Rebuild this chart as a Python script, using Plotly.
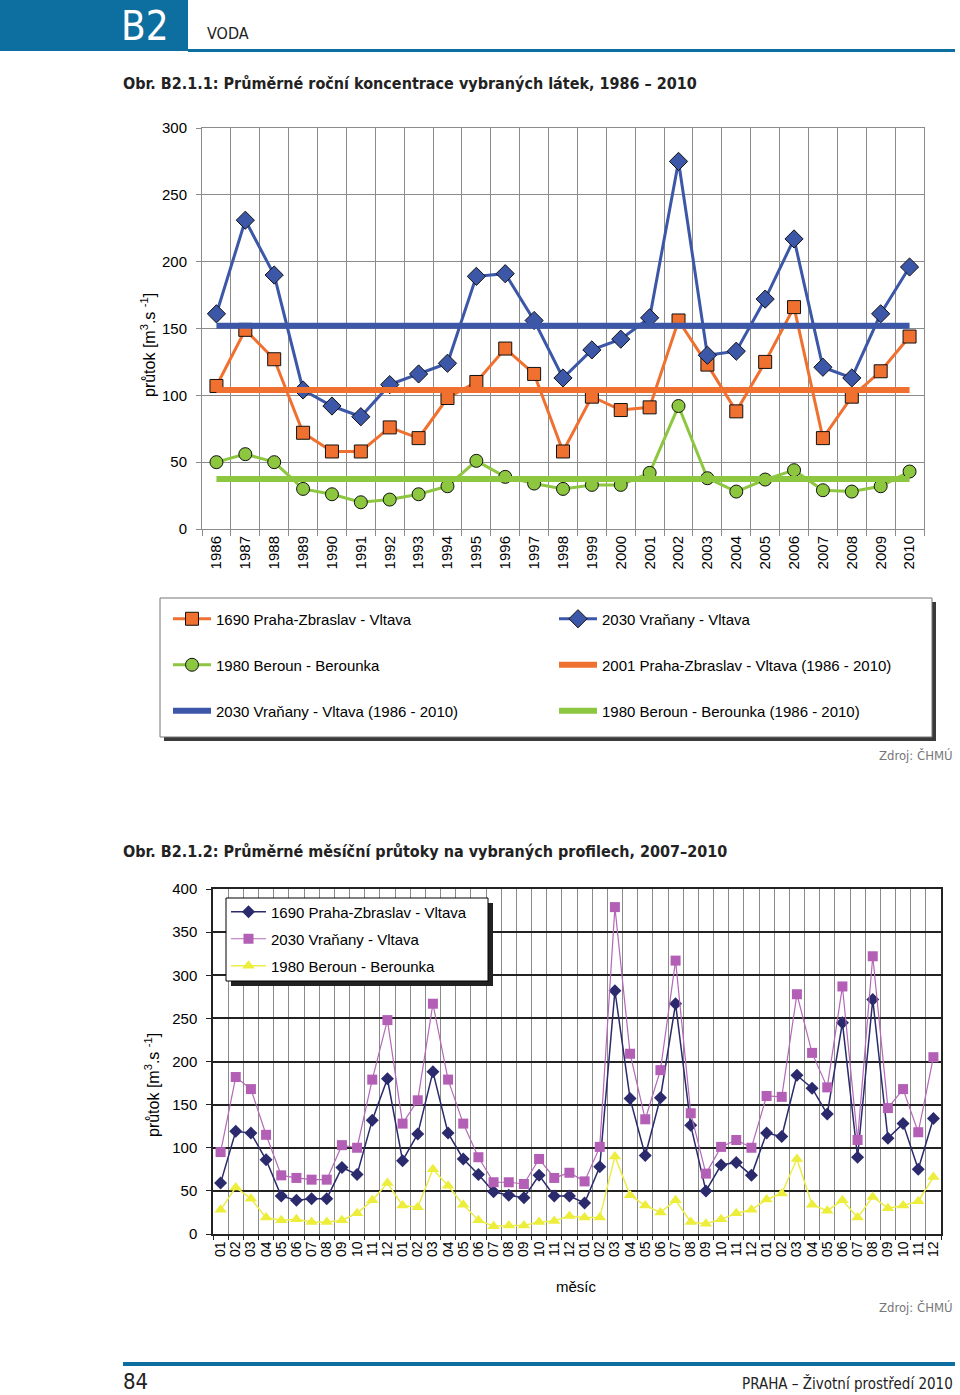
import plotly.graph_objects as go

# ---------------- data: chart 1 (annual, 1986-2010) ----------------
years = [str(y) for y in range(1986, 2011)]
praha_zbraslav = [107, 149, 127, 72, 58, 58, 76, 68, 98, 110, 135, 116, 58,
                  99, 89, 91, 156, 123, 88, 125, 166, 68, 99, 118, 144]
vranany = [161, 231, 190, 104, 92, 84, 108, 116, 124, 189, 191, 156, 113,
           134, 142, 158, 275, 130, 133, 172, 217, 121, 113, 161, 196]
beroun = [50, 56, 50, 30, 26, 20, 22, 26, 32, 51, 39, 34, 30,
          33, 33, 42, 92, 38, 28, 37, 44, 29, 28, 32, 43]
avg_praha = 104
avg_vranany = 152
avg_beroun = 37.5

# ---------------- data: chart 2 (monthly, 2007-2010) ----------------
month_years = ["2007", "2008", "2009", "2010"]
months = ["01", "02", "03", "04", "05", "06", "07", "08", "09", "10", "11", "12"]
m_praha = [59, 119, 117, 86, 44, 39, 41, 41, 77, 69, 132, 180,
           85, 116, 188, 117, 87, 69, 49, 45, 42, 68, 44, 44,
           36, 78, 282, 157, 91, 158, 267, 126, 50, 80, 83, 68,
           117, 113, 184, 169, 139, 245, 89, 272, 111, 128, 75, 134]
m_vranany = [95, 182, 168, 115, 68, 65, 63, 63, 103, 100, 179, 248,
             128, 155, 267, 179, 128, 89, 60, 60, 58, 87, 65, 71,
             61, 101, 379, 209, 133, 190, 317, 140, 70, 101, 109, 100,
             160, 159, 278, 210, 170, 287, 109, 322, 146, 168, 118, 205]
m_beroun = [28, 54, 41, 19, 16, 17, 14, 14, 16, 24, 39, 59,
            33, 31, 75, 56, 34, 16, 9, 10, 10, 14, 15, 21,
            19, 19, 90, 45, 33, 25, 39, 14, 12, 17, 24, 28,
            40, 47, 87, 34, 27, 39, 19, 43, 30, 33, 38, 66]

W, H = 960, 1395


def X(p):
    return p / W


def Y(p):
    return 1 - p / H


FONT = "Liberation Sans, Arial, sans-serif"
TFONT = "Liberation Sans Narrow, DejaVu Sans Condensed, Liberation Sans, sans-serif"

C_OR = "#F07030"
C_BL = "#3D57A8"
C_GR = "#8DC63F"

fig = go.Figure()

# chart 1 traces
fig.add_trace(go.Scatter(
    x=years, y=praha_zbraslav, name="1690 Praha-Zbraslav - Vltava", mode="lines+markers",
    line=dict(color=C_OR, width=3),
    marker=dict(symbol="square", size=13, color=C_OR, line=dict(color="#111", width=1)),
    legend="legend", xaxis="x", yaxis="y"))
fig.add_trace(go.Scatter(
    x=years, y=vranany, name="2030 Vraňany - Vltava", mode="lines+markers",
    line=dict(color=C_BL, width=3),
    marker=dict(symbol="diamond", size=14, color=C_BL, line=dict(color="#111", width=1)),
    legend="legend2", xaxis="x", yaxis="y"))
fig.add_trace(go.Scatter(
    x=years, y=beroun, name="1980 Beroun - Berounka", mode="lines+markers",
    line=dict(color=C_GR, width=3),
    marker=dict(symbol="circle", size=13, color=C_GR, line=dict(color="#111", width=1)),
    legend="legend3", xaxis="x", yaxis="y"))
fig.add_trace(go.Scatter(
    x=years, y=[avg_praha] * len(years), name="2001 Praha-Zbraslav - Vltava (1986 - 2010)",
    mode="lines", line=dict(color=C_OR, width=6),
    legend="legend4", xaxis="x", yaxis="y"))
fig.add_trace(go.Scatter(
    x=years, y=[avg_vranany] * len(years), name="2030 Vraňany - Vltava (1986 - 2010)",
    mode="lines", line=dict(color=C_BL, width=6),
    legend="legend5", xaxis="x", yaxis="y"))
fig.add_trace(go.Scatter(
    x=years, y=[avg_beroun] * len(years), name="1980 Beroun - Berounka (1986 - 2010)",
    mode="lines", line=dict(color=C_GR, width=6),
    legend="legend6", xaxis="x", yaxis="y"))

# chart 2 traces
mkeys = [f"{y}-{m}" for y in month_years for m in months]
alias = {k: k.split("-")[1] for k in mkeys}

fig.add_trace(go.Scatter(
    x=mkeys, y=m_praha, name="1690 Praha-Zbraslav - Vltava", mode="lines+markers",
    line=dict(color="#2A2A6C", width=1.5),
    marker=dict(symbol="diamond", size=10, color="#2A2A6C"),
    legend="legend7", xaxis="x2", yaxis="y2"))
fig.add_trace(go.Scatter(
    x=mkeys, y=m_vranany, name="2030 Vraňany - Vltava", mode="lines+markers",
    line=dict(color="#B468B8", width=1.2),
    marker=dict(symbol="square", size=10, color="#B25FB5"),
    legend="legend8", xaxis="x2", yaxis="y2"))
fig.add_trace(go.Scatter(
    x=mkeys, y=m_beroun, name="1980 Beroun - Berounka", mode="lines+markers",
    line=dict(color="#EDED48", width=1.5),
    marker=dict(symbol="triangle-up", size=11, color="#EDED3C"),
    legend="legend9", xaxis="x2", yaxis="y2"))

G1 = "#8C8C8C"

shapes = [
    # header
    dict(type="rect", xref="paper", yref="paper", x0=X(0), x1=X(188), y0=Y(51), y1=Y(0),
         fillcolor="#0D6F9F", line=dict(width=0), layer="above"),
    dict(type="rect", xref="paper", yref="paper", x0=X(188), x1=X(955), y0=Y(52), y1=Y(49),
         fillcolor="#0D6F9F", line=dict(width=0), layer="above"),
    # legend 1 box
    dict(type="rect", xref="paper", yref="paper", x0=X(164), x1=X(936), y0=Y(741), y1=Y(602),
         fillcolor="#3A3A3A", line=dict(width=0), layer="above"),
    dict(type="rect", xref="paper", yref="paper", x0=X(160), x1=X(932), y0=Y(737), y1=Y(598),
         fillcolor="white", line=dict(color="#777", width=1), layer="above"),
    # legend 2 box
    dict(type="rect", xref="paper", yref="paper", x0=X(231), x1=X(493), y0=Y(986), y1=Y(903),
         fillcolor="#222", line=dict(width=0), layer="above"),
    dict(type="rect", xref="paper", yref="paper", x0=X(226), x1=X(488), y0=Y(981), y1=Y(898),
         fillcolor="white", line=dict(color="#000", width=1), layer="above"),
    # footer line
    dict(type="rect", xref="paper", yref="paper", x0=X(123), x1=X(955), y0=Y(1366), y1=Y(1362),
         fillcolor="#0D6F9F", line=dict(width=0), layer="above"),
]


def ann(text, x, y, size, color="#000", xanchor="left", family=FONT, angle=0, yanchor="middle"):
    return dict(text=text, x=X(x), y=Y(y), xref="paper", yref="paper", showarrow=False,
                xanchor=xanchor, yanchor=yanchor, textangle=angle,
                font=dict(size=size, color=color, family=family))


annotations = [
    ann("B2", 145, 26, 40, "white", "center", TFONT),
    ann("VODA", 205, 34, 16, "#222", "left", TFONT),
    ann("<b>Obr. B2.1.1: Průměrné roční koncentrace vybraných látek, 1986 – 2010</b>", 121, 84, 16, "#222", "left", TFONT),
    ann("průtok [m<sup>3</sup>.s <sup>-1</sup>]", 148, 345, 16, "#000", "center", FONT, -90),
    ann("Zdroj: ČHMÚ", 955, 755, 13, "#777", "right", TFONT),
    ann("<b>Obr. B2.1.2: Průměrné měsíční průtoky na vybraných profilech, 2007–2010</b>", 121, 851, 16, "#222", "left", TFONT),
    ann("průtok [m<sup>3</sup>.s <sup>-1</sup>]", 152, 1085, 16, "#000", "center", FONT, -90),
    ann("měsíc", 576, 1286, 15, "#000", "center", FONT),
    ann("Zdroj: ČHMÚ", 955, 1307, 13, "#777", "right", TFONT),
    ann("84", 121, 1381, 22, "#222", "left", TFONT),
    ann("PRAHA – Životní prostředí 2010", 955, 1383, 15, "#222", "right", TFONT),
]


def leg(x_text, y_mid, iw):
    return dict(x=X(x_text - iw - 10), y=Y(y_mid), xanchor="left", yanchor="middle",
                orientation="v", itemwidth=iw, bgcolor="rgba(0,0,0,0)", borderwidth=0,
                font=dict(family=FONT, size=15, color="#000"))


fig.update_layout(
    width=W, height=H, margin=dict(l=0, r=0, t=0, b=0, autoexpand=False),
    paper_bgcolor="white", plot_bgcolor="white",
    shapes=shapes, annotations=annotations,
    legend=leg(216, 619, 38), legend2=leg(602, 619, 38),
    legend3=leg(216, 665, 38), legend4=leg(602, 665, 38),
    legend5=leg(216, 711, 38), legend6=leg(602, 711, 38),
    legend7=leg(271, 912, 35), legend8=leg(271, 939, 35), legend9=leg(271, 966, 35),
    xaxis=dict(domain=[X(202), X(924)], type="category", tickson="boundaries",
               range=[-0.5, len(years) - 0.5], autorange=False,
               showgrid=True, gridcolor=G1, gridwidth=1,
               showline=True, linecolor=G1, linewidth=1, mirror=True,
               ticks="outside", ticklen=6, tickcolor=G1, tickangle=-90,
               tickfont=dict(family=FONT, size=15, color="#000"), anchor="y"),
    yaxis=dict(domain=[Y(529), Y(128)], range=[0, 300], dtick=50, tick0=0,
               showgrid=True, gridcolor=G1, gridwidth=1, zeroline=False,
               showline=True, linecolor=G1, linewidth=1, mirror=True,
               ticks="outside", ticklen=5, tickcolor=G1, ticklabelstandoff=6,
               tickfont=dict(family=FONT, size=15, color="#000"), anchor="x"),
    xaxis2=dict(domain=[X(213), X(941)], type="category", tickson="boundaries",
                range=[-0.5, len(mkeys) - 0.5], autorange=False,
                labelalias=alias, dtick=1,
                showgrid=True, gridcolor="#8A8A8A", gridwidth=1.2,
                showline=True, linecolor="#222", linewidth=1.5, mirror=True,
                ticks="outside", ticklen=4, tickcolor="#222", tickangle=-90,
                tickfont=dict(family=FONT, size=14, color="#000"), anchor="y2"),
    yaxis2=dict(domain=[Y(1234), Y(889)], range=[0, 400], dtick=50, tick0=0,
                showgrid=True, gridcolor="#222", gridwidth=1.5, zeroline=False,
                showline=True, linecolor="#222", linewidth=1.5, mirror=True,
                ticks="outside", ticklen=5, tickcolor="#222", ticklabelstandoff=6,
                tickfont=dict(family=FONT, size=15, color="#000"), anchor="x2"),
    showlegend=True,
)

fig.write_html(
    "out.html",
    config={"displayModeBar": False},
    post_script="document.body.style.margin='0';document.body.style.padding='0';"
                "document.documentElement.style.overflow='hidden';",
)
